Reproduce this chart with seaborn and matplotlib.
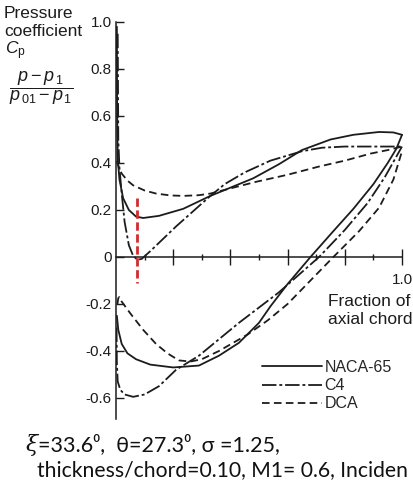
import numpy as np
import pandas as pd
import matplotlib
matplotlib.use("Agg")
import matplotlib.pyplot as plt
import seaborn as sns

# fraction of axial chord vs pressure coefficient
naca_up_x = [0.003, 0.004, 0.006, 0.012, 0.025, 0.045, 0.07, 0.095, 0.15, 0.235,
             0.33, 0.40, 0.48, 0.57, 0.65, 0.75, 0.83, 0.92, 0.97, 1.0]
naca_up_y = [0.98, 0.62, 0.42, 0.33, 0.25, 0.20, 0.172, 0.166, 0.175, 0.205,
             0.26, 0.295, 0.335, 0.395, 0.455, 0.50, 0.52, 0.532, 0.53, 0.52]
naca_lo_x = [0.003, 0.008, 0.02, 0.04, 0.07, 0.12, 0.20, 0.29, 0.36, 0.43,
             0.50, 0.54, 0.60, 0.68, 0.76, 0.83, 0.90, 0.95, 0.98, 1.0]
naca_lo_y = [-0.25, -0.31, -0.37, -0.41, -0.435, -0.458, -0.47, -0.462, -0.42, -0.365,
             -0.28, -0.21, -0.115, 0.0, 0.11, 0.205, 0.31, 0.40, 0.46, 0.52]

c4_up_x = [0.006, 0.008, 0.012, 0.02, 0.03, 0.045, 0.06, 0.075, 0.09, 0.12,
           0.21, 0.33, 0.38, 0.45, 0.54, 0.65, 0.72, 0.80, 0.90, 1.0]
c4_up_y = [0.95, 0.50, 0.38, 0.27, 0.15, 0.05, 0.005, -0.012, -0.008, 0.025,
           0.13, 0.26, 0.31, 0.36, 0.41, 0.45, 0.465, 0.47, 0.47, 0.47]
c4_lo_x = [0.002, 0.003, 0.006, 0.015, 0.03, 0.06, 0.10, 0.15, 0.21, 0.29,
           0.36, 0.43, 0.50, 0.57, 0.64, 0.71, 0.80, 0.88, 0.94, 1.0]
c4_lo_y = [-0.30, -0.45, -0.53, -0.565, -0.585, -0.595, -0.585, -0.55, -0.48, -0.42,
           -0.35, -0.28, -0.215, -0.15, -0.075, 0.0, 0.115, 0.23, 0.34, 0.47]

dca_up_x = [0.003, 0.01, 0.02, 0.04, 0.06, 0.10, 0.14, 0.19, 0.235, 0.29,
            0.33, 0.41, 0.49, 0.60, 0.71, 0.80, 0.89, 0.95, 1.0]
dca_up_y = [0.41, 0.38, 0.355, 0.325, 0.305, 0.283, 0.27, 0.262, 0.26, 0.263,
            0.27, 0.295, 0.32, 0.35, 0.385, 0.41, 0.44, 0.455, 0.47]
dca_lo_x = [0.005, 0.008, 0.012, 0.02, 0.05, 0.095, 0.14, 0.18, 0.22, 0.26, 0.30,
            0.36, 0.41, 0.46, 0.53, 0.60, 0.68, 0.76, 0.85, 0.92, 0.97, 1.0]
dca_lo_y = [-0.20, -0.175, -0.17, -0.19, -0.24, -0.31, -0.37, -0.41, -0.44, -0.445, -0.435,
            -0.40, -0.365, -0.33, -0.27, -0.20, -0.10, 0.0, 0.11, 0.21, 0.33, 0.45]

red_x = [0.073, 0.073]
red_y = [0.25, -0.11]

yticks = [1.0, 0.8, 0.6, 0.4, 0.2, 0.0, -0.2, -0.4, -0.6]
ytick_labels = ["1.0", "0.8", "0.6", "0.4", "0.2", "0", "-0.2", "-0.4", "-0.6"]
xticks_major = [0.2, 0.4, 0.6, 0.8, 1.0]
xticks_minor = [0.1, 0.3, 0.5, 0.7, 0.9]
xtick_labels = ["", "", "", "", "1.0"]

sns.set_style("white")
plt.rcParams["font.family"] = ["Liberation Sans", "DejaVu Sans"]
plt.rcParams["mathtext.fontset"] = "custom"
plt.rcParams["mathtext.rm"] = "Liberation Sans"
plt.rcParams["mathtext.it"] = "Liberation Sans:italic"

W, H = 413, 492
fig = plt.figure(figsize=(W / 100, H / 100), dpi=100)
ax = fig.add_axes([116 / W, 0.1433, 1.03 * 286 / W, 0.8311])

ink = "#1c1c1c"
lw = 1.3
styles = {
    "NACA-65": dict(linestyle="-"),
    "C4": dict(linestyle=(0, (8, 1.6, 1.6, 1.6))),
    "DCA": dict(linestyle=(0, (4.2, 2.4))),
}
branches = [
    ("NACA-65", naca_up_x, naca_up_y, True),
    ("NACA-65", naca_lo_x, naca_lo_y, False),
    ("C4", c4_up_x, c4_up_y, True),
    ("C4", c4_lo_x, c4_lo_y, False),
    ("DCA", dca_up_x, dca_up_y, True),
    ("DCA", dca_lo_x, dca_lo_y, False),
]
for name, xs, ys, lab in branches:
    df = pd.DataFrame({"x": xs, "cp": ys})
    sns.lineplot(data=df, x="x", y="cp", sort=False, estimator=None, ax=ax,
                 color=ink, lw=lw, label=name if lab else None, **styles[name])

sns.lineplot(x=red_x, y=red_y, sort=False, estimator=None, ax=ax,
             color="#d12b2b", lw=2.0, linestyle=(0, (3, 1.3)))

ax.set_xlim(0, 1.03)
ax.set_ylim(-0.70, 1.04)
for s in ("top", "right"):
    ax.spines[s].set_visible(False)
ax.spines["bottom"].set_position(("data", 0))
ax.spines["bottom"].set_bounds(0, 1.0)
ax.spines["left"].set_bounds(-0.69, 1.0)
for s in ("bottom", "left"):
    ax.spines[s].set_color(ink)
    ax.spines[s].set_linewidth(1.1)

ax.set_yticks(yticks)
ax.set_yticklabels(ytick_labels)
ax.set_xticks(xticks_major)
ax.set_xticklabels(xtick_labels)
ax.set_xticks(xticks_minor, minor=True)
ax.tick_params(axis="y", direction="in", length=6, width=1.0, pad=3,
               labelsize=11, colors=ink, left=True)
ax.tick_params(axis="x", which="major", direction="inout", length=11, width=1.0,
               pad=6, labelsize=11, colors=ink, bottom=True)
ax.tick_params(axis="x", which="minor", direction="inout", length=5, width=1.0,
               colors=ink, bottom=True)
ax.set_xlabel("")
ax.set_ylabel("")

ax.legend(loc="upper left", bbox_to_anchor=(262 / W, 1 - 360 / H),
          bbox_transform=fig.transFigure, frameon=False, fontsize=11.5,
          handlelength=3.75, handletextpad=0.15, labelspacing=0.2,
          borderpad=0, borderaxespad=0)


def fx(px):
    return px / W


def fy(py):
    return 1 - py / H


fig.text(fx(328), fy(301), "Fraction of", fontsize=12.5, color=ink, va="center", ha="left")
fig.text(fx(328), fy(320), "axial chord", fontsize=12.5, color=ink, va="center", ha="left")

fig.text(fx(4), fy(13), "Pressure", fontsize=12.5, color=ink, va="center", ha="left")
fig.text(fx(4), fy(32), "coefficient", fontsize=12.5, color=ink, va="center", ha="left")
fig.text(fx(5), fy(51), r"$C_\mathrm{p}$", fontsize=12.5, color=ink, va="center", ha="left")
fig.text(fx(41), fy(88), r"$\dfrac{p - p_{\,1}}{p_{\,01} - p_{\,1}}$", fontsize=13,
         color=ink, va="center", ha="center")

cap = ["Lato", "DejaVu Sans"]
fig.text(fx(26), fy(445), "ξ", fontsize=16, family="DejaVu Serif", style="italic",
         color="#111111", va="center", ha="left")
fig.text(fx(38), fy(445), "=33.6⁰,  θ=27.3⁰, σ =1.25,", fontsize=15.5, family=cap,
         color="#111111", va="center", ha="left")
fig.text(fx(37), fy(470), "thickness/chord=0.10, M1= 0.6, Inciden", fontsize=15.2,
         family=cap, color="#111111", va="center", ha="left")

fig.savefig("out.png", dpi=100)
